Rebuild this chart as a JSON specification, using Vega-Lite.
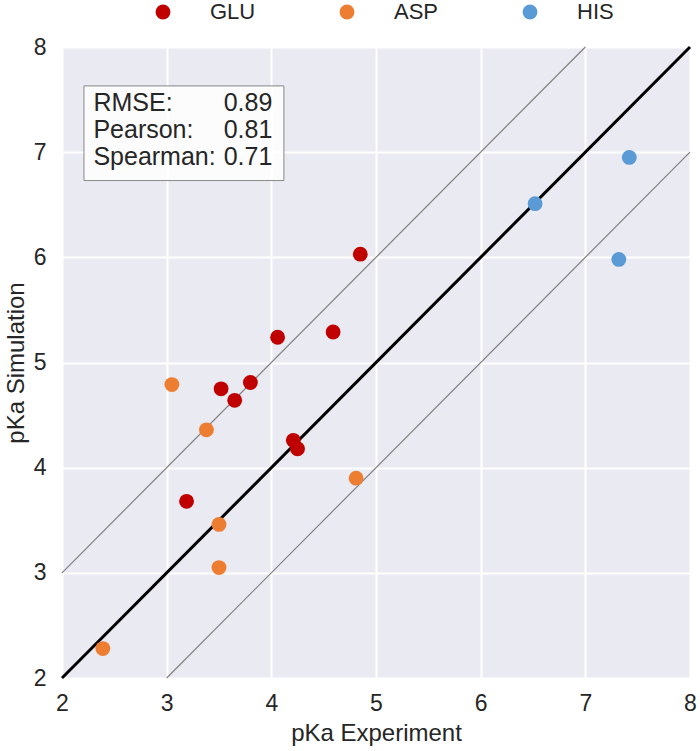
{
  "$schema": "https://vega.github.io/schema/vega-lite/v6.json",
  "autosize": "none",
  "width": 628,
  "height": 631,
  "padding": {"left": 62, "top": 47, "right": 10, "bottom": 73},
  "background": "white",
  "config": {
    "font": "Liberation Sans",
    "view": {"fill": "#EAEAF2", "stroke": null},
    "axis": {
      "domain": false,
      "ticks": false,
      "grid": true,
      "gridColor": "white",
      "gridWidth": 2,
      "labelFontSize": 23,
      "labelColor": "#262626",
      "labelFlush": false,
      "titleFontSize": 24,
      "titleColor": "#262626",
      "titleFontWeight": "normal",
      "format": "d"
    }
  },
  "datasets": {
    "points": [
      {"exp": 4.85, "sim": 6.03, "residue": "GLU"},
      {"exp": 4.59, "sim": 5.29, "residue": "GLU"},
      {"exp": 4.06, "sim": 5.24, "residue": "GLU"},
      {"exp": 3.80, "sim": 4.81, "residue": "GLU"},
      {"exp": 3.52, "sim": 4.75, "residue": "GLU"},
      {"exp": 3.65, "sim": 4.64, "residue": "GLU"},
      {"exp": 4.21, "sim": 4.26, "residue": "GLU"},
      {"exp": 4.25, "sim": 4.18, "residue": "GLU"},
      {"exp": 3.19, "sim": 3.68, "residue": "GLU"},
      {"exp": 3.05, "sim": 4.79, "residue": "ASP"},
      {"exp": 3.38, "sim": 4.36, "residue": "ASP"},
      {"exp": 4.81, "sim": 3.90, "residue": "ASP"},
      {"exp": 3.50, "sim": 3.46, "residue": "ASP"},
      {"exp": 3.50, "sim": 3.05, "residue": "ASP"},
      {"exp": 2.39, "sim": 2.28, "residue": "ASP"},
      {"exp": 6.52, "sim": 6.51, "residue": "HIS"},
      {"exp": 7.42, "sim": 6.95, "residue": "HIS"},
      {"exp": 7.32, "sim": 5.98, "residue": "HIS"}
    ],
    "lines": [
      {"x": 2, "y": 2, "x2": 8, "y2": 8, "kind": "identity"},
      {"x": 2, "y": 3, "x2": 7, "y2": 8, "kind": "upper"},
      {"x": 3, "y": 2, "x2": 8, "y2": 7, "kind": "lower"}
    ],
    "stats": [
      {"label": "RMSE:", "value": "0.89", "row": 7.468},
      {"label": "Pearson:", "value": "0.81", "row": 7.211},
      {"label": "Spearman:", "value": "0.71", "row": 6.954}
    ],
    "box": [
      {"x": 2.21, "x2": 4.12, "y": 7.63, "y2": 6.73}
    ]
  },
  "layer": [
    {
      "data": {"name": "lines"},
      "transform": [{"filter": "datum.kind !== 'identity'"}],
      "mark": {"type": "rule", "color": "#808080", "strokeWidth": 1.2},
      "encoding": {
        "x": {"field": "x", "type": "quantitative", "scale": {"domain": [2, 8]}},
        "y": {"field": "y", "type": "quantitative", "scale": {"domain": [2, 8]}},
        "x2": {"field": "x2"},
        "y2": {"field": "y2"}
      }
    },
    {
      "data": {"name": "lines"},
      "transform": [{"filter": "datum.kind === 'identity'"}],
      "mark": {"type": "rule", "color": "black", "strokeWidth": 3},
      "encoding": {
        "x": {"field": "x", "type": "quantitative"},
        "y": {"field": "y", "type": "quantitative"},
        "x2": {"field": "x2"},
        "y2": {"field": "y2"}
      }
    },
    {
      "data": {"name": "points"},
      "mark": {"type": "point", "filled": true, "opacity": 1, "size": 220, "shape": "circle"},
      "encoding": {
        "x": {
          "field": "exp", "type": "quantitative", "title": "pKa Experiment",
          "scale": {"domain": [2, 8], "nice": false, "zero": false},
          "axis": {"values": [2, 3, 4, 5, 6, 7, 8], "labelPadding": 14, "titlePadding": 6}
        },
        "y": {
          "field": "sim", "type": "quantitative", "title": "pKa Simulation",
          "scale": {"domain": [2, 8], "nice": false, "zero": false},
          "axis": {"values": [2, 3, 4, 5, 6, 7, 8], "labelPadding": 16, "titlePadding": 5}
        },
        "color": {
          "field": "residue", "type": "nominal",
          "scale": {"domain": ["GLU", "ASP", "HIS"], "range": ["#C00000", "#ED7D31", "#5B9BD5"]},
          "legend": {
            "title": null,
            "orient": "none",
            "direction": "horizontal",
            "legendX": 90,
            "legendY": -46,
            "symbolType": "circle",
            "symbolSize": 220,
            "symbolOpacity": 1,
            "labelFontSize": 22,
            "labelColor": "#262626",
            "labelOffset": 36,
            "columnPadding": 80
          }
        }
      }
    },
    {
      "data": {"name": "box"},
      "mark": {"type": "rect", "fill": "white", "fillOpacity": 0.85, "stroke": "#888888", "strokeWidth": 1},
      "encoding": {
        "x": {"field": "x", "type": "quantitative"},
        "x2": {"field": "x2"},
        "y": {"field": "y", "type": "quantitative"},
        "y2": {"field": "y2"}
      }
    },
    {
      "data": {"name": "stats"},
      "mark": {"type": "text", "align": "left", "baseline": "middle", "fontSize": 25, "color": "#262626"},
      "encoding": {
        "x": {"datum": 2.3, "type": "quantitative"},
        "y": {"field": "row", "type": "quantitative"},
        "text": {"field": "label"}
      }
    },
    {
      "data": {"name": "stats"},
      "mark": {"type": "text", "align": "right", "baseline": "middle", "fontSize": 25, "color": "#262626"},
      "encoding": {
        "x": {"datum": 4.01, "type": "quantitative"},
        "y": {"field": "row", "type": "quantitative"},
        "text": {"field": "value"}
      }
    }
  ]
}
